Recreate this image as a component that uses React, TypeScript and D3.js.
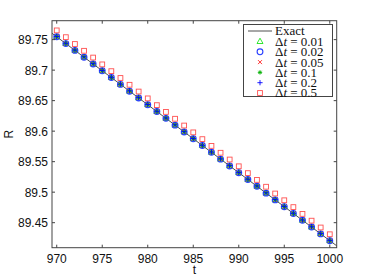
import React, { useRef, useEffect } from 'react';
import * as d3 from 'd3';

// sample times (integer t)
const times = [970, 971, 972, 973, 974, 975, 976, 977, 978, 979, 980, 981, 982, 983, 984, 985,
  986, 987, 988, 989, 990, 991, 992, 993, 994, 995, 996, 997, 998, 999, 1000];

// exact solution (drawn as line over whole axis)
const exactT = [969.48, 1000.76];
const exactR = [89.7604, 89.4121];

// numerical solutions, one per time step
const r001 = [89.7546, 89.7435, 89.7323, 89.7212, 89.7101, 89.6989, 89.6878, 89.6766, 89.6655, 89.6544,
  89.6432, 89.6321, 89.6210, 89.6098, 89.5987, 89.5875, 89.5764, 89.5653, 89.5541, 89.5430, 89.5319,
  89.5207, 89.5096, 89.4984, 89.4873, 89.4762, 89.4650, 89.4539, 89.4428, 89.4316, 89.4205];
const r002 = [89.7546, 89.7435, 89.7323, 89.7212, 89.7101, 89.6989, 89.6878, 89.6766, 89.6655, 89.6544,
  89.6432, 89.6321, 89.6210, 89.6098, 89.5987, 89.5875, 89.5764, 89.5653, 89.5541, 89.5430, 89.5319,
  89.5207, 89.5096, 89.4984, 89.4873, 89.4762, 89.4650, 89.4539, 89.4428, 89.4316, 89.4205];
const r005 = [89.7547, 89.7436, 89.7324, 89.7213, 89.7102, 89.6990, 89.6879, 89.6767, 89.6656, 89.6545,
  89.6433, 89.6322, 89.6211, 89.6099, 89.5988, 89.5876, 89.5765, 89.5654, 89.5542, 89.5431, 89.5320,
  89.5208, 89.5097, 89.4985, 89.4874, 89.4763, 89.4651, 89.4540, 89.4429, 89.4317, 89.4206];
const r01 = [89.7548, 89.7437, 89.7325, 89.7214, 89.7103, 89.6991, 89.6880, 89.6768, 89.6657, 89.6546,
  89.6434, 89.6323, 89.6212, 89.6100, 89.5989, 89.5877, 89.5766, 89.5655, 89.5543, 89.5432, 89.5321,
  89.5209, 89.5098, 89.4986, 89.4875, 89.4764, 89.4652, 89.4541, 89.4430, 89.4318, 89.4207];
const r02 = [89.7551, 89.7440, 89.7328, 89.7217, 89.7106, 89.6994, 89.6883, 89.6771, 89.6660, 89.6549,
  89.6437, 89.6326, 89.6215, 89.6103, 89.5992, 89.5880, 89.5769, 89.5658, 89.5546, 89.5435, 89.5324,
  89.5212, 89.5101, 89.4989, 89.4878, 89.4767, 89.4655, 89.4544, 89.4433, 89.4321, 89.4210];
const r05 = [89.7651, 89.7540, 89.7428, 89.7317, 89.7206, 89.7094, 89.6983, 89.6871, 89.6760, 89.6649,
  89.6537, 89.6426, 89.6315, 89.6203, 89.6092, 89.5980, 89.5869, 89.5758, 89.5646, 89.5535, 89.5424,
  89.5312, 89.5201, 89.5089, 89.4978, 89.4867, 89.4755, 89.4644, 89.4533, 89.4421, 89.4310];

const xTicks = [970, 975, 980, 985, 990, 995, 1000];
const yTicks = [89.45, 89.5, 89.55, 89.6, 89.65, 89.7, 89.75];

const seriesNames = ['0.01', '0.02', '0.05', '0.1', '0.2', '0.5'];
const seriesValues = [r001, r002, r005, r01, r02, r05];
const seriesMarkers = ['triangle', 'circle', 'x', 'star', 'plus', 'square'];
const seriesColors = ['#00e000', '#2a40ff', '#ff2020', '#00b000', '#0000ff', '#ff5050'];

const W = 372, H = 280;
const m = { left: 52, right: 336.7, top: 20.7, bottom: 247.7 };

function drawMarker(g: any, kind: string, x: number, y: number, color: string) {
  if (kind === 'triangle') {
    g.append('path').attr('d', `M${x},${y - 3.3}L${x + 3},${y + 2}L${x - 3},${y + 2}Z`)
      .attr('fill', 'none').attr('stroke', color).attr('stroke-width', 0.8);
  } else if (kind === 'circle') {
    g.append('circle').attr('cx', x).attr('cy', y).attr('r', 2.9)
      .attr('fill', 'none').attr('stroke', color).attr('stroke-width', 1.1);
  } else if (kind === 'x') {
    g.append('path').attr('d', `M${x - 2},${y - 2}L${x + 2},${y + 2}M${x - 2},${y + 2}L${x + 2},${y - 2}`)
      .attr('stroke', color).attr('stroke-width', 0.9);
  } else if (kind === 'star') {
    g.append('path').attr('d', `M${x - 2.2},${y}L${x + 2.2},${y}M${x},${y - 2.2}L${x},${y + 2.2}M${x - 1.6},${y - 1.6}L${x + 1.6},${y + 1.6}M${x - 1.6},${y + 1.6}L${x + 1.6},${y - 1.6}`)
      .attr('stroke', color).attr('stroke-width', 0.9);
  } else if (kind === 'plus') {
    g.append('path').attr('d', `M${x - 2.6},${y}L${x + 2.6},${y}M${x},${y - 2.6}L${x},${y + 2.6}`)
      .attr('stroke', color).attr('stroke-width', 0.9);
  } else {
    g.append('rect').attr('x', x - 2.4).attr('y', y - 2.4).attr('width', 4.8).attr('height', 4.8)
      .attr('fill', 'none').attr('stroke', color).attr('stroke-width', 0.9);
  }
}

export default function App() {
  const ref = useRef<SVGSVGElement>(null);

  useEffect(() => {
    if (!ref.current) return;
    const svg = d3.select(ref.current);
    svg.selectAll('*').remove();

    const x = d3.scaleLinear().domain([969.48, 1000.76]).range([m.left, m.right]);
    const y = d3.scaleLinear().domain([89.409, 89.781]).range([m.bottom, m.top]);

    svg.append('rect').attr('width', W).attr('height', H).attr('fill', '#fff');

    // data
    const plot = svg.append('g');
    const line = d3.line<number>().x((d, i) => x(exactT[i])).y(d => y(d));
    plot.append('path').datum(exactR).attr('d', line)
      .attr('fill', 'none').attr('stroke', '#222').attr('stroke-width', 0.8);

    seriesValues.forEach((vals, s) => {
      vals.forEach((v, i) => drawMarker(plot, seriesMarkers[s], x(times[i]), y(v), seriesColors[s]));
    });

    // box + ticks
    const axisColor = '#444';
    const ax = svg.append('g').attr('font-family', 'Liberation Sans, Arial, sans-serif').attr('font-size', 12);
    ax.append('rect').attr('x', m.left).attr('y', m.top)
      .attr('width', m.right - m.left).attr('height', m.bottom - m.top)
      .attr('fill', 'none').attr('stroke', axisColor).attr('stroke-width', 1);
    xTicks.forEach(t => {
      const px = x(t);
      ax.append('line').attr('x1', px).attr('x2', px).attr('y1', m.bottom).attr('y2', m.bottom - 3).attr('stroke', axisColor);
      ax.append('line').attr('x1', px).attr('x2', px).attr('y1', m.top).attr('y2', m.top + 3).attr('stroke', axisColor);
      ax.append('text').attr('x', px).attr('y', m.bottom + 15).attr('text-anchor', 'middle').attr('fill', '#111').text(t);
    });
    yTicks.forEach(t => {
      const py = y(t);
      ax.append('line').attr('x1', m.left).attr('x2', m.left + 3).attr('y1', py).attr('y2', py).attr('stroke', axisColor);
      ax.append('line').attr('x1', m.right).attr('x2', m.right - 3).attr('y1', py).attr('y2', py).attr('stroke', axisColor);
      ax.append('text').attr('x', m.left - 4).attr('y', py + 4.5).attr('text-anchor', 'end').attr('fill', '#111').text(d3.format('')(t));
    });
    ax.append('text').attr('x', (m.left + m.right) / 2).attr('y', 274).attr('text-anchor', 'middle').attr('fill', '#111').text('t');
    ax.append('text').attr('transform', `translate(13,${(m.top + m.bottom) / 2}) rotate(-90)`)
      .attr('text-anchor', 'middle').attr('fill', '#111').text('R');

    // legend
    const lg = svg.append('g').attr('font-family', 'Liberation Serif, Times New Roman, serif').attr('font-size', 13);
    lg.append('rect').attr('x', 243.5).attr('y', 24.5).attr('width', 89).attr('height', 72)
      .attr('fill', '#fff').attr('stroke', axisColor).attr('stroke-width', 1);
    lg.append('line').attr('x1', 248).attr('x2', 272).attr('y1', 31).attr('y2', 31).attr('stroke', '#222').attr('stroke-width', 0.8);
    lg.append('text').attr('x', 275).attr('y', 35.3).attr('fill', '#111').text('Exact');
    seriesNames.forEach((n, i) => {
      const ly = 41.5 + i * 10.3;
      drawMarker(lg, seriesMarkers[i], 260, ly, seriesColors[i]);
      const t = lg.append('text').attr('x', 275).attr('y', ly + 4.4).attr('fill', '#111');
      t.append('tspan').text('\u0394');
      t.append('tspan').attr('font-style', 'italic').text('t');
      t.append('tspan').text(` = ${n}`);
    });
  }, []);

  return (
    <svg ref={ref} width={W} height={H} style={{ position: 'absolute', left: 0, top: 0 }} />
  );
}
